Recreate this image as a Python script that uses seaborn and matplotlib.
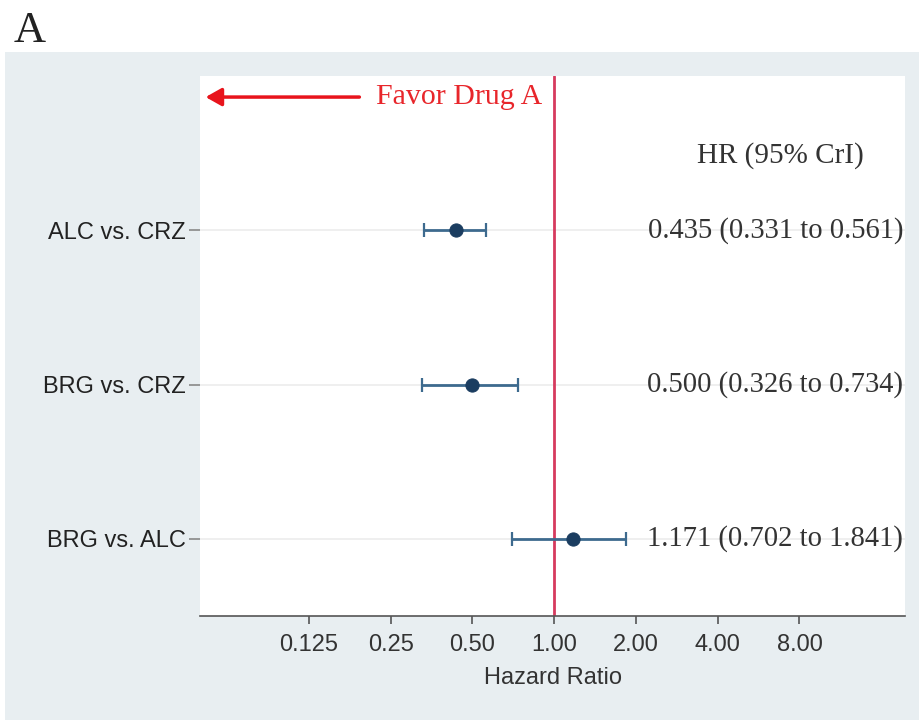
import numpy as np
import pandas as pd
import seaborn as sns
import matplotlib
matplotlib.use("Agg")
import matplotlib.pyplot as plt
from matplotlib.patches import Rectangle
from matplotlib.transforms import blended_transform_factory

comparisons = ["ALC vs. CRZ", "BRG vs. CRZ", "BRG vs. ALC"]
hr = [0.435, 0.500, 1.171]
lower = [0.331, 0.326, 0.702]
upper = [0.561, 0.734, 1.841]
hr_text = ["0.435 (0.331 to 0.561)", "0.500 (0.326 to 0.734)", "1.171 (0.702 to 1.841)"]
xticks = [0.125, 0.25, 0.5, 1.0, 2.0, 4.0, 8.0]
xtick_labels = ["0.125", "0.25", "0.50", "1.00", "2.00", "4.00", "8.00"]

df = pd.DataFrame({"comparison": comparisons, "hr": hr, "lower": lower, "upper": upper})

sns.set_theme(style="white")
plt.rcParams["font.family"] = ["Liberation Sans", "DejaVu Sans"]

fig = plt.figure(figsize=(9.19, 7.2), dpi=100)
fig.patch.set_facecolor("white")
fig.add_artist(Rectangle((5 / 919, 0), 1, (720 - 52) / 720, transform=fig.transFigure,
                         facecolor="#e8eef1", edgecolor="none", zorder=0))
fig.text(14 / 919, 1 - 42 / 720, "A", fontsize=32, family="Liberation Serif",
         va="baseline", ha="left", color="#222222")

ax = fig.add_axes([200 / 919, 1 - 616 / 720, 705 / 919, 540 / 720])
ax.set_facecolor("white")
ax.set_xscale("log", base=2)

ypos = np.arange(len(comparisons))
for y in ypos:
    ax.axhline(y, color="#ececec", lw=1.2, zorder=1)

ax.errorbar(df["hr"], ypos, xerr=[df["hr"] - df["lower"], df["upper"] - df["hr"]],
            fmt="none", ecolor="#3d6a8e", elinewidth=2, capsize=5, capthick=1.6, zorder=3)
sns.scatterplot(x=df["hr"], y=ypos, ax=ax, color="#1b3d60", s=90, edgecolor="#1b3d60",
                zorder=4, legend=False)

ax.axvline(1.0, color="#d63a5e", lw=2, zorder=2)

ax.set_xlim(2 ** -4.33, 2 ** 4.29)
ax.set_ylim(2.5, -1.0)
ax.set_xticks(xticks)
ax.set_xticklabels(xtick_labels)
ax.xaxis.set_minor_locator(matplotlib.ticker.NullLocator())
ax.set_yticks(ypos)
ax.set_yticklabels(comparisons)
ax.tick_params(axis="both", labelsize=17, length=6, width=1.2, left=True, bottom=True)
ax.tick_params(axis="x", colors="#555555", labelcolor="#333333", pad=7)
ax.tick_params(axis="y", colors="#888888", labelcolor="#222222", pad=2, length=8)
ax.set_xlabel("Hazard Ratio", fontsize=17, color="#333333", labelpad=8)
ax.set_ylabel("")
for s in ["top", "right", "left"]:
    ax.spines[s].set_visible(False)
ax.spines["bottom"].set_color("#555555")
ax.spines["bottom"].set_linewidth(1.2)

tr = blended_transform_factory(ax.transAxes, ax.transData)
serif = "Liberation Serif"
for y, t in zip(ypos, hr_text):
    ax.text(0.816, y, t, transform=tr, ha="center", va="center", fontsize=20.6,
            family=serif, color="#333333")
ax.text(0.823, 0.852, "HR (95% CrI)", transform=ax.transAxes, ha="center", va="center",
        fontsize=21, family=serif, color="#333333")

ax.annotate("", xy=(0.004, 0.961), xytext=(0.23, 0.961), xycoords="axes fraction",
            arrowprops=dict(arrowstyle="-|>,head_length=0.8,head_width=0.45",
                            color="#e8141c", lw=2.5))
ax.text(0.25, 0.961, "Favor Drug A", transform=ax.transAxes, ha="left", va="center",
        fontsize=21.5, family=serif, color="#e8262b")

fig.savefig("out.png", dpi=100)
